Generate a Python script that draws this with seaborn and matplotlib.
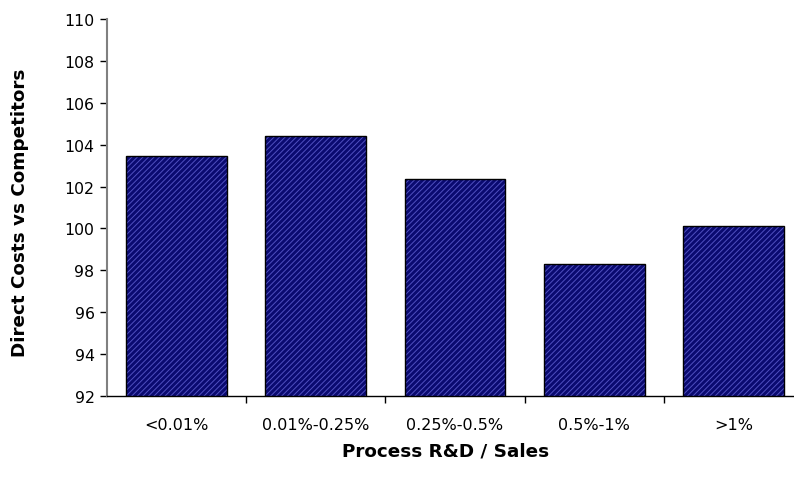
import matplotlib
matplotlib.use("Agg")
import matplotlib.pyplot as plt
import seaborn as sns
import pandas as pd
from matplotlib.ticker import FixedLocator

categories = ["<0.01%", "0.01%-0.25%", "0.25%-0.5%", "0.5%-1%", ">1%"]
values = [103.45, 104.42, 102.36, 98.3, 100.12]
yticks = [92, 94, 96, 98, 100, 102, 104, 106, 108, 110]

df = pd.DataFrame({"cat": categories, "val": values})

sns.set_style("white")
plt.rcParams["font.family"] = ["DejaVu Sans"]
plt.rcParams["hatch.linewidth"] = 0.7
plt.rcParams["text.color"] = "black"
plt.rcParams["axes.labelcolor"] = "black"
plt.rcParams["xtick.color"] = "black"
plt.rcParams["ytick.color"] = "black"

fig = plt.figure(figsize=(7.94, 4.89), dpi=100)
ax = fig.add_axes([107/794, 1-397/489, 696/794, 377/489])

# hatched fill layer
sns.barplot(data=df, x="cat", y="val", ax=ax, color="#0a0a70", width=0.725,
            edgecolor="#5050c0", linewidth=0, hatch="//////", saturation=1)
# outline layer
sns.barplot(data=df, x="cat", y="val", ax=ax, fill=False, width=0.725,
            edgecolor="#000000", linewidth=1.0)

ax.set_ylim(92, 110)
ax.set_xlim(-0.5, 4.5)
ax.set_yticks(yticks)
ax.set_yticklabels([str(t) for t in yticks], fontsize=11.3)
ax.tick_params(axis="y", which="major", direction="out", length=5, width=1,
               color="#000000", left=True, pad=4, labelcolor="black")
ax.tick_params(axis="x", which="major", length=0, pad=15, labelsize=11.5,
               labelcolor="black")
ax.xaxis.set_minor_locator(FixedLocator([0.5, 1.5, 2.5, 3.5]))
ax.tick_params(axis="x", which="minor", direction="out", length=5, width=1,
               color="#000000", bottom=True)

for s in ["top", "right"]:
    ax.spines[s].set_visible(False)
ax.spines["left"].set_color("#808080")
ax.spines["left"].set_linewidth(1.5)
ax.spines["bottom"].set_color("#000000")
ax.spines["bottom"].set_linewidth(1.0)

ax.set_xlabel("Process R&D / Sales", fontsize=13.2, fontweight="bold", color="black")
ax.set_ylabel("Direct Costs vs Competitors", fontsize=13.2, fontweight="bold", color="black")
ax.xaxis.set_label_coords((446-107)/696, (397-442)/377)
ax.yaxis.set_label_coords((29-107)/696, (397-213)/377)
ax.grid(False)

fig.savefig("out.png", dpi=100)
